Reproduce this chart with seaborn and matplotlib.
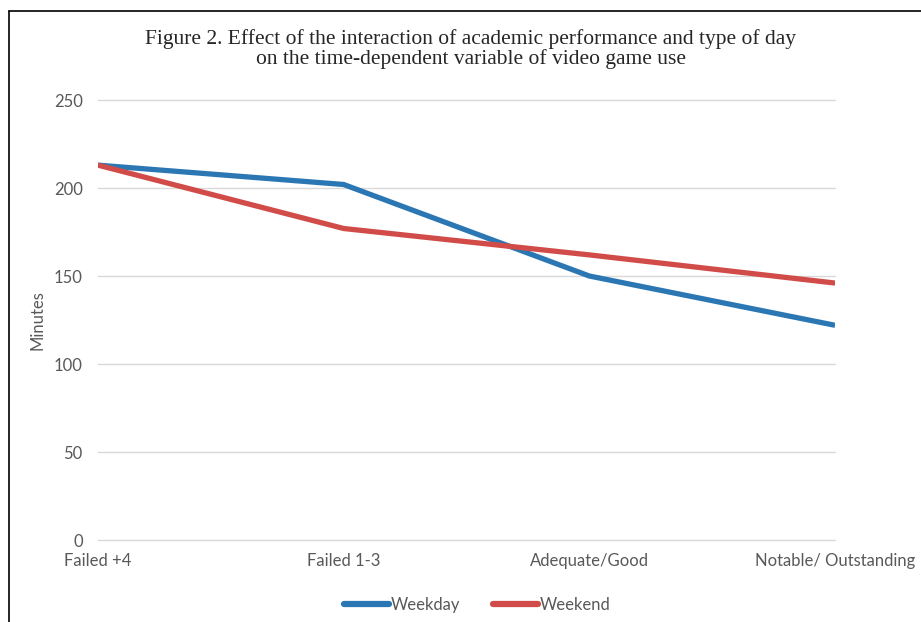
import pandas as pd
import seaborn as sns
import matplotlib.pyplot as plt
from matplotlib.lines import Line2D

# values
categories = ["Failed +4", "Failed 1-3", "Adequate/Good", "Notable/ Outstanding"]
weekday = [213, 202, 150, 122]
weekend = [213, 177, 162, 146]

df = pd.DataFrame({
    "cat": list(range(len(categories))) * 2,
    "minutes": weekday + weekend,
    "day": ["Weekday"] * 4 + ["Weekend"] * 4,
})

sns.set_style("white")
plt.rcParams['font.family'] = ['Lato', 'DejaVu Sans']

fig = plt.figure(figsize=(9.21, 6.22), dpi=100)
ax = fig.add_axes([0.1064, 0.1318, 0.8003, 0.7074])

pal = {"Weekday": "#2b77b4", "Weekend": "#d14c48"}
sns.lineplot(data=df, x="cat", y="minutes", hue="day", palette=pal,
             linewidth=3.8, ax=ax, legend=False, solid_capstyle="butt")

ax.set_xlim(0, 3)
ax.set_ylim(0, 250)
ax.set_yticks([0, 50, 100, 150, 200, 250])
ax.set_xticks(range(4))
ax.set_xticklabels(categories)
ax.yaxis.grid(True, color="#d9d9d9", linewidth=1)
ax.xaxis.grid(False)
ax.set_axisbelow(True)
for gl in ax.get_ygridlines():
    gl.set_clip_on(False)
for s in ax.spines.values():
    s.set_visible(False)
ax.tick_params(axis="both", length=0, labelsize=12, labelcolor="#595959")
ax.tick_params(axis="x", pad=9)
ax.tick_params(axis="y", pad=11)
ax.set_xlabel("")
ax.set_ylabel("Minutes", fontsize=12, color="#595959", labelpad=6)

fig.text(0.511, 0.921, "Figure 2. Effect of the interaction of academic performance and type of day\n"
         "on the time-dependent variable of video game use",
         ha="center", va="center", fontsize=15.5, family="Liberation Serif", linespacing=0.98)

handles = [Line2D([], [], color=pal[k], linewidth=4.5) for k in ["Weekday", "Weekend"]]
fig.legend(handles, ["Weekday", "Weekend"], loc="center", bbox_to_anchor=(0.518, 0.027),
           ncol=2, frameon=False, fontsize=12, handlelength=2.7, handletextpad=0.1,
           columnspacing=2.0, labelcolor="#595959")

# frame lines at top and left like the source image
fig.add_artist(Line2D([0.0098, 0.0098], [0, 0.9823], color="black", linewidth=1.2, transform=fig.transFigure))
fig.add_artist(Line2D([0.0098, 1], [0.9823, 0.9823], color="black", linewidth=1.2, transform=fig.transFigure))

fig.savefig("out.png", dpi=100)
